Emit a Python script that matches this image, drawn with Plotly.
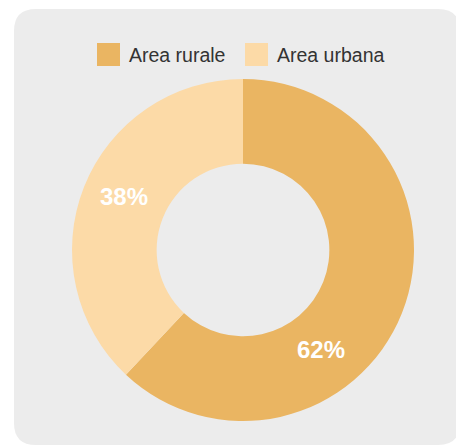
import plotly.graph_objects as go

labels = ["Area rurale", "Area urbana"]
values = [62, 38]
colors = ["#EAB562", "#FCDAA7"]

# page body has an 8px margin; work in window pixels and convert
OX, OY = 8, 8
W, H = 456, 438

def px(x):
    return (x - OX) / W

def py(y):
    return 1 - (y - OY) / H

# rounded gray panel
x0, x1, y0, y1, r = 14, 460, 9, 445, 22
path = (
    f"M {px(x0 + r)},{py(y0)} L {px(x1 - r)},{py(y0)} "
    f"Q {px(x1)},{py(y0)} {px(x1)},{py(y0 + r)} "
    f"L {px(x1)},{py(y1 - r)} Q {px(x1)},{py(y1)} {px(x1 - r)},{py(y1)} "
    f"L {px(x0 + r)},{py(y1)} Q {px(x0)},{py(y1)} {px(x0)},{py(y1 - r)} "
    f"L {px(x0)},{py(y0 + r)} Q {px(x0)},{py(y0)} {px(x0 + r)},{py(y0)} Z"
)

fig = go.Figure(
    go.Pie(
        labels=labels,
        values=values,
        hole=0.505,
        sort=False,
        direction="clockwise",
        rotation=0,
        marker=dict(colors=colors, line=dict(width=0)),
        textinfo="none",
        showlegend=False,
        domain=dict(x=[px(72), px(414)], y=[py(421), py(79)]),
    )
)

shapes = [dict(type="path", path=path, xref="paper", yref="paper",
               fillcolor="#ECECEC", line=dict(width=0), layer="below")]

annotations = []
# legend built from the data
leg_sq = [(97, 43), (245, 43)]
for (sx, sy), lab, col in zip(leg_sq, labels, colors):
    shapes.append(dict(type="rect", xref="paper", yref="paper",
                       x0=px(sx), x1=px(sx + 23), y0=py(sy + 23), y1=py(sy),
                       fillcolor=col, line=dict(width=0)))
    annotations.append(dict(text=lab, x=px(sx + 30), y=py(sy + 12), xref="paper",
                            yref="paper", xanchor="left", yanchor="middle",
                            showarrow=False,
                            font=dict(family="Liberation Sans", size=19.5, color="#333333")))

# percentage labels
total = sum(values)
lab_pos = [(321, 349), (124, 197)]
for (lx, ly), v in zip(lab_pos, values):
    annotations.append(dict(text=f"{round(100 * v / total)}%", x=px(lx), y=py(ly),
                            xref="paper", yref="paper", xanchor="center",
                            yanchor="middle", showarrow=False,
                            font=dict(family="Liberation Sans", size=24,
                                      color="white", weight=600)))

fig.update_layout(
    width=W, height=H,
    margin=dict(l=0, r=0, t=0, b=0),
    paper_bgcolor="white",
    plot_bgcolor="white",
    shapes=shapes,
    annotations=annotations,
)

fig.write_html("out.html")
